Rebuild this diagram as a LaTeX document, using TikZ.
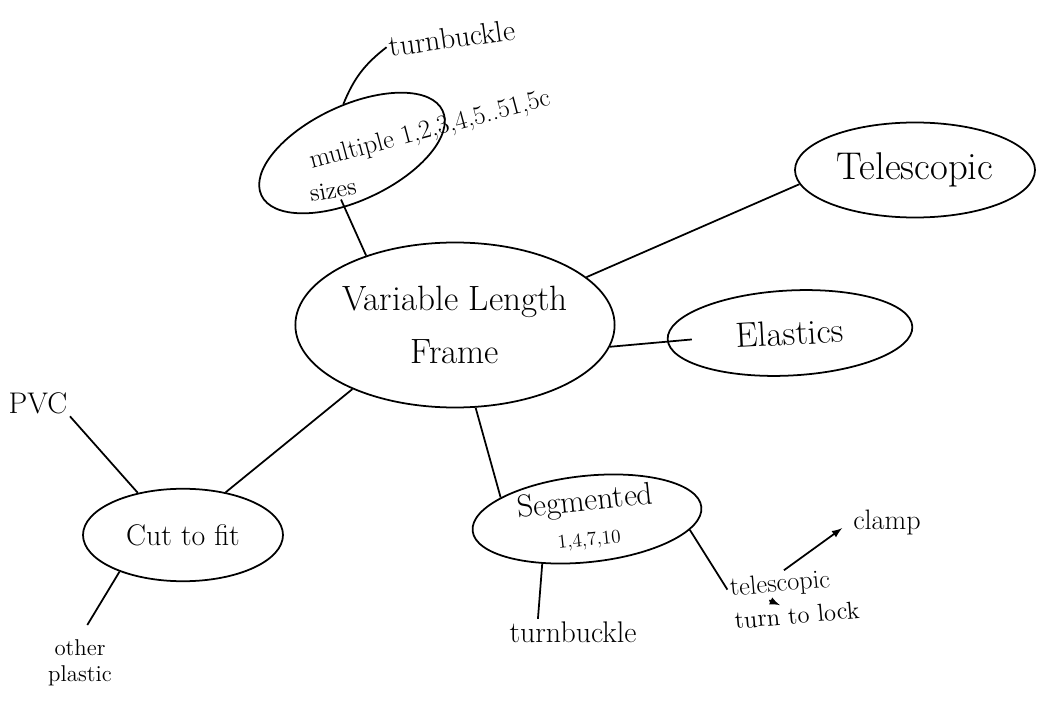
\documentclass[tikz,border=0pt]{standalone}
\usetikzlibrary{shapes.geometric}
\begin{document}
\begin{tikzpicture}[line width=1pt, >=latex,
    bubble/.style={draw, ellipse, inner sep=0pt},
    word/.style={inner sep=1pt, align=center}]
  \useasboundingbox (0,0) rectangle (20.74,14.16);
  \node[bubble, minimum width=6.2cm, minimum height=3.3cm, font=\fontsize{20}{30}\selectfont, align=center] (frame) at (9.1,7.66) {Variable Length\\Frame};
  \node[bubble, minimum width=4cm, minimum height=1.9cm, rotate=25] (sizes) at (7.04,11.1) {};
  \node[word, rotate=15, font=\fontsize{15}{17}\selectfont] (mult) at (8.6,11.55) {multiple 1,2,3,4,5..51,5c};
  \node[word, rotate=10, font=\fontsize{14}{16}\selectfont] (sz) at (6.66,10.36) {sizes};
  \node[word, rotate=8, font=\fontsize{17}{20}\selectfont] (tbtop) at (9.04,13.4) {turnbuckle};
  \node[bubble, minimum width=4.8cm, minimum height=1.9cm, font=\fontsize{22}{26}\selectfont] (tele) at (18.3,10.76) {Telescopic};
  \node[bubble, minimum width=4.9cm, minimum height=1.7cm, rotate=3, font=\fontsize{20}{24}\selectfont] (elast) at (15.8,7.5) {Elastics};
  \node[bubble, minimum width=4cm, minimum height=1.85cm, font=\fontsize{17}{20}\selectfont] (cut) at (3.66,3.46) {Cut to fit};
  \node[word, font=\fontsize{17}{19}\selectfont] (pvc) at (0.76,6.1) {PVC};
  \node[word, font=\fontsize{13}{15}\selectfont] (other) at (1.6,0.9) {other\\plastic};
  \node[bubble, minimum width=4.6cm, minimum height=1.7cm, rotate=6, font=\fontsize{18}{20}\selectfont, align=center] (seg) at (11.74,3.78) {Segmented\\{\fontsize{11}{13}\selectfont 1,4,7,10}};
  \node[word, font=\fontsize{17}{20}\selectfont] (tbbot) at (11.46,1.52) {turnbuckle};
  \node[word, rotate=5, font=\fontsize{15}{17}\selectfont] (scope) at (15.6,2.46) {telescopic};
  \node[word, rotate=5, font=\fontsize{14}{16}\selectfont] (lock) at (15.94,1.86) {turn to lock};
  \node[word, font=\fontsize{16}{18}\selectfont] (clamp) at (17.74,3.72) {clamp};

  \draw (frame.142) -- (sz.-60);
  \draw (sizes.75) to[bend left=15] (tbtop.west);
  \draw (frame.20) -- (tele.187);
  \draw (frame.-8) -- ([xshift=0.5cm]elast.west);
  \draw (frame.212) -- (cut.45);
  \draw (cut.137) -- (pvc.south east);
  \draw[shorten >=8pt] (cut.-150) -- (other.north);
  \draw (frame.-76) -- (seg.160);
  \draw (seg.-141) -- ([xshift=0.62cm]tbbot.north west);
  \draw (seg.-12) -- (scope.west);
  \draw[->, shorten >=6pt] (scope.70) -- (clamp.west);
  \draw[->] (scope.-130) -- (lock.145);
\end{tikzpicture}
\end{document}
